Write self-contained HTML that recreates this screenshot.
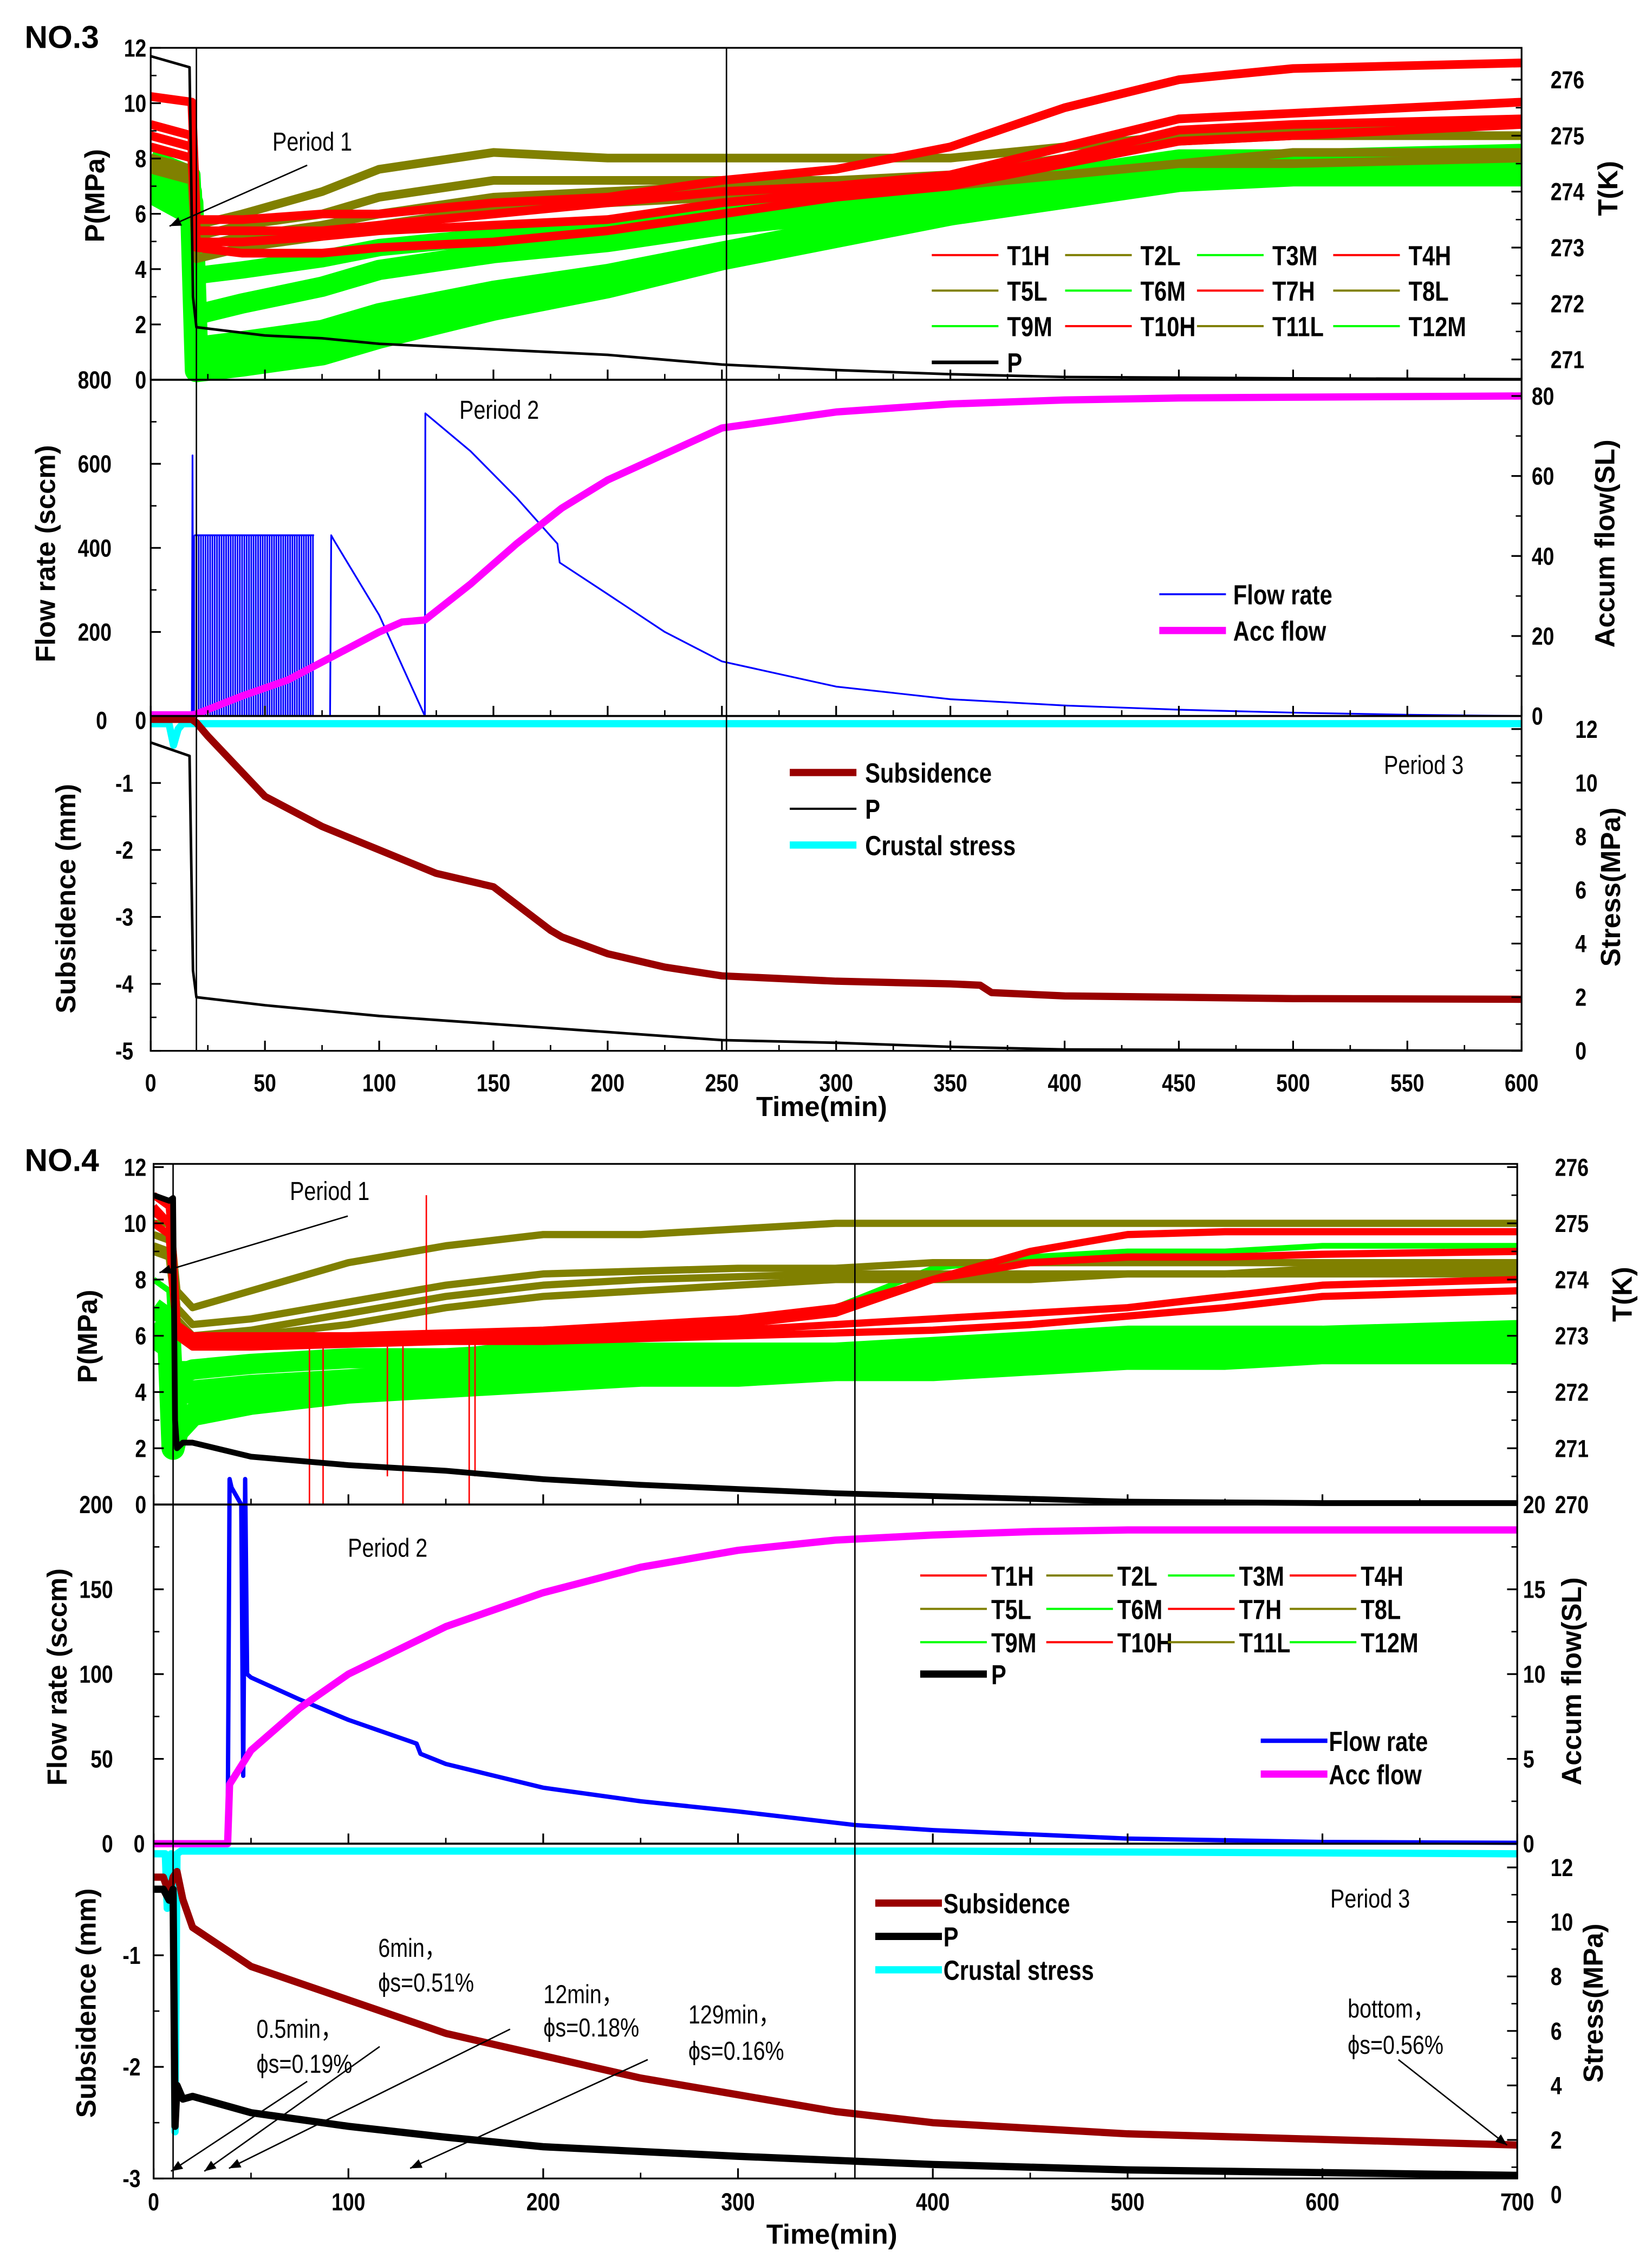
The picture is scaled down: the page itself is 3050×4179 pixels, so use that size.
<!DOCTYPE html>
<html><head><meta charset="utf-8"><style>
html,body{margin:0;padding:0;background:#fff}
svg{display:block}
text{font-family:"Liberation Sans Narrow","Liberation Sans",sans-serif}
.tk{font-size:17px;font-weight:bold}
.lg{font-size:19px;font-weight:bold}
.ti{font-size:19px;font-weight:bold;font-family:"Liberation Sans",sans-serif}
.an{font-size:18px}
</style></head><body>
<svg id="fig" width="3050" height="4179" viewBox="0 0 1140 1562" preserveAspectRatio="none" xmlns="http://www.w3.org/2000/svg">
<defs>
<clipPath id="c1"><rect x="104" y="33" width="946" height="692"/></clipPath>
<clipPath id="c2"><rect x="106" y="803" width="941" height="700"/></clipPath>
<marker id="ar" viewBox="0 0 10 10" refX="10" refY="5" markerWidth="8" markerHeight="8" orient="auto"><path d="M0,1 L10,5 L0,9 z" fill="#000"/></marker>
</defs>
<g id="root"></g>
</svg>
<script>
// ===== Chart NO.3 data =====
const c1TTimes=[0,18,20,40,75,100,150,200,250,300,350,400,450,500,600];
const c1R1=[275.7,275.6,273.5,273.5,273.6,273.6,273.8,273.9,274.2,274.4,274.8,275.5,276.0,276.2,276.3];
const c1R2=[275.2,275.0,273.3,273.3,273.3,273.4,273.6,273.8,274.0,274.1,274.3,274.8,275.3,275.4,275.6];
const c1R3=[275.0,274.8,273.1,273.1,273.2,273.3,273.4,273.5,273.8,274.0,274.2,274.6,275.1,275.2,275.3];
const c1R4=[274.8,274.6,273.0,272.9,272.9,273.0,273.1,273.3,273.6,273.9,274.1,274.5,274.9,275.0,275.2];
const c1O1=[274.8,274.6,273.4,273.6,274.0,274.4,274.7,274.6,274.6,274.6,274.6,274.8,275.0,275.1,275.2];
const c1O2=[274.6,274.4,273.2,273.4,273.6,273.9,274.2,274.2,274.2,274.2,274.3,274.6,274.9,275.0,275.0];
const c1O3=[274.5,274.3,273.0,273.2,273.4,273.6,273.9,274.0,274.1,274.1,274.2,274.3,274.5,274.7,274.7];
const c1O4=[274.4,274.2,272.8,273.0,273.2,273.4,273.7,273.8,273.9,274.0,274.1,274.3,274.5,274.5,274.6];
const c1G1=[274.6,274.3,272.5,272.6,272.8,273.0,273.2,273.4,273.6,273.8,274.0,274.3,274.6,274.6,274.7];
const c1G2=[274.3,274.0,271.8,272.0,272.3,272.6,272.9,273.1,273.4,273.6,273.8,274.1,274.4,274.5,274.5];
const c1G3=[274.1,273.8,271.2,271.3,271.5,271.8,272.2,272.5,272.9,273.3,273.6,274.0,274.3,274.4,274.4];
const c1G4=[274.0,273.6,270.8,270.9,271.1,271.4,271.9,272.3,272.8,273.2,273.6,273.9,274.2,274.3,274.3];
const c1PTimes=[0,17,18.5,20,50,75,100,150,200,250,300,350,400,500,600];
const c1P=[11.7,11.3,3,1.9,1.6,1.5,1.3,1.1,0.9,0.55,0.35,0.2,0.1,0.05,0.02];
const c1PulseT=[19,20,21,22,23,24,25,26,27,28,29,30,31,32,33,34,35,36,37,38,39,40,41,42,43,44,45,46,47,48,49,50,51,52,53,54,55,56,57,58,59,60,61,62,63,64,65,66,67,68,69,70,71];
const c1PulseV=430;
const c1FlowT=[18,18.3,18.6,72,78.5,79,80,100,110,120,120.2,140,160,178,179,200,225,250,300,350,400,450,500,550,600];
const c1Flow=[0,620,0,0,0,430,420,240,120,0,720,630,520,410,365,290,200,130,70,40,25,15,8,3,0];
const c1AccT=[0,18,20,40,60,80,100,110,120,140,160,180,200,250,300,350,400,450,500,600];
const c1Acc=[0.3,0.3,0.5,5,9,15,21,23.5,24,33,43,52,59,72,76,78,79,79.5,79.7,80];
const c1StrT=[0,8,10,12,14,20,100,300,600];
const c1Str=[12.2,12.2,11.4,12.0,12.2,12.2,12.2,12.2,12.2];
const c1SubT=[0,18,20,25,50,75,100,125,150,175,180,200,225,250,300,350,363,368,400,500,600];
const c1Sub=[-0.05,-0.05,-0.1,-0.3,-1.2,-1.65,-2.0,-2.35,-2.55,-3.2,-3.3,-3.55,-3.75,-3.88,-3.96,-4.0,-4.02,-4.13,-4.18,-4.22,-4.23];
const c1BPT=[0,17,18.5,20,50,100,150,200,250,300,350,400,600];
const c1BP=[11.5,11.0,3,2.0,1.7,1.3,1.0,0.7,0.4,0.3,0.15,0.05,0];
const c1XTicks=[0,50,100,150,200,250,300,350,400,450,500,550,600];
const c1PTicks=[2,4,6,8,10,12];
const c1TTicks=[271,272,273,274,275,276];
const c1FTicks=[0,200,400,600,800];
const c1ATicks=[0,20,40,60,80];
const c1STicks=[0,-1,-2,-3,-4,-5];
const c1StTicks=[0,2,4,6,8,10,12];
// ===== Chart NO.4 data =====
const c2TTimes=[0,8,10,12,20,50,100,150,200,250,300,350,400,450,500,550,600,700];
const c2O1=[275,275,274.5,273.8,273.5,273.8,274.3,274.6,274.8,274.8,274.9,275.0,275.0,275.0,275.0,275.0,275.0,275.0];
const c2O2=[274.8,274.7,274.3,273.5,273.2,273.3,273.6,273.9,274.1,274.15,274.2,274.2,274.3,274.3,274.3,274.3,274.3,274.3];
const c2O3=[274.6,274.5,274.0,273.3,273.0,273.1,273.4,273.7,273.9,274.0,274.05,274.1,274.1,274.1,274.1,274.1,274.2,274.2];
const c2O4=[274.5,274.4,273.8,273.2,272.9,273.0,273.2,273.5,273.7,273.8,273.9,274.0,274.0,274.0,274.1,274.1,274.1,274.1];
const c2R1=[275.5,275.3,274.5,273.2,273.0,273.0,273.0,273.0,273.05,273.1,273.2,273.4,274.0,274.5,274.8,274.85,274.85,274.85];
const c2R2=[275.3,275,274,273.1,272.9,272.9,272.9,272.95,273,273.05,273.1,273.2,273.3,273.4,273.5,273.7,273.9,274.0];
const c2R3=[275.2,275,274,273.2,273.0,273.0,273.0,273.05,273.1,273.2,273.3,273.5,274.0,274.3,274.4,274.4,274.45,274.5];
const c2R4=[275,274.8,273.8,273.0,272.8,272.8,272.85,272.9,272.9,272.95,273.0,273.05,273.1,273.2,273.35,273.5,273.7,273.8];
const c2G1=[274,273.8,272.5,272.5,272.5,272.5,272.5,272.7,272.9,273.0,273.2,273.5,274.2,274.4,274.5,274.5,274.6,274.6];
const c2G2=[273.5,273.3,272,272.3,272.4,272.5,272.6,272.6,272.7,272.7,272.7,272.7,272.8,272.9,273.0,273.0,273.0,273.1];
const c2G3=[273.2,273,271.5,272,272.0,272.1,272.2,272.3,272.4,272.4,272.5,272.5,272.6,272.6,272.7,272.7,272.8,272.8];
const c2G4=[273,272.8,271,271.3,271.6,271.8,272.0,272.1,272.2,272.3,272.3,272.4,272.4,272.5,272.6,272.6,272.7,272.7];
const c2SpikeT=[80,87,120,128,140,162,165];
const c2SpikeV=[270,270,270.5,270,275.5,270,270.5];
const c2PTimes=[0,8,10,11,12,15,20,50,100,150,200,250,300,350,400,500,600,700];
const c2P=[11,10.8,10.9,3,2.0,2.2,2.2,1.7,1.4,1.2,0.9,0.7,0.55,0.4,0.3,0.1,0.05,0.05];
const c2FlowT=[0,38,39,40,45,46,47,48,50,75,100,135,137,150,200,250,300,360,400,500,600,700];
const c2Flow=[0,0,215,210,200,40,215,100,98,85,73,59,53,47,33,25,19,11,8,3,1,0.5];
const c2AccT=[0,38,39,50,75,100,150,200,250,300,350,400,450,500,600,700];
const c2Acc=[0,0,3.5,5.5,8,10,12.8,14.8,16.3,17.3,17.9,18.2,18.4,18.5,18.5,18.5];
const c2StrT=[0,6,7,8,9,10,11,12,14,100,400,700];
const c2Str=[12.5,12.5,10.5,12.3,12.5,12,2.3,12.5,12.6,12.6,12.6,12.5];
const c2SubT=[0,5,8,10,12,15,20,50,100,150,200,250,300,350,400,450,500,600,700];
const c2Sub=[-0.3,-0.3,-0.45,-0.3,-0.25,-0.5,-0.75,-1.1,-1.4,-1.7,-1.9,-2.1,-2.25,-2.4,-2.5,-2.55,-2.6,-2.65,-2.7];
const c2BPT=[0,5,8,10,11,12,15,20,50,100,150,200,300,400,500,700];
const c2BP=[11.2,11.2,10.8,11.2,2.5,4,3.5,3.6,3.0,2.5,2.1,1.75,1.4,1.1,0.9,0.7];
const c2XTicks=[0,100,200,300,400,500,600,700];
const c2PTicks=[0,2,4,6,8,10,12];
const c2TTicks=[270,271,272,273,274,275,276];
const c2FTicks=[0,50,100,150,200];
const c2ATicks=[0,5,10,15,20];
const c2STicks=[0,-1,-2,-3];
const c2StTicks=[0,2,4,6,8,10,12];

const NS='http://www.w3.org/2000/svg';
const root=document.getElementById('root');
function mk(tag,attrs,parent){const e=document.createElementNS(NS,tag);for(const k in attrs)e.setAttribute(k,attrs[k]);(parent||root).appendChild(e);return e;}
function txt(x,y,s,cls,anchor,parent){const e=mk('text',{x:x,y:y,class:cls,'text-anchor':anchor||'start'},parent);e.textContent=s;return e;}
function line(ts,vs,xf,yf,color,w,clip,name){
  let d='';for(let i=0;i<ts.length;i++){d+=(i?'L':'M')+xf(ts[i]).toFixed(2)+','+yf(vs[i]).toFixed(2);}
  const p=mk('path',{d:d,fill:'none',stroke:color,'stroke-width':w,'stroke-linejoin':'round','clip-path':'url(#'+clip+')'});
  
  
  return p;
}
const RED='#ff0000',OLV='#808000',GRN='#00ff00';

// ---------- Chart 1 ----------
const x1=t=>104+t*946/600;
const yP1=v=>262-v*19.08;
const yT1=v=>248-(v-271)*38.6;
const yF1=v=>494-v*232/800;
const yA1=v=>494-v*2.76;
const yS1=v=>494-v*46.2;
const ySt1=v=>725-v*18.5;

[[c1G4,16],[c1G3,16],[c1G2,14],[c1G1,12]].forEach((s,i)=>line(c1TTimes,s[0],x1,yT1,GRN,s[1],'c1','c1-green-temp-'+(i+1)));
[c1O4,c1O3,c1O2,c1O1].forEach((s,i)=>line(c1TTimes,s,x1,yT1,OLV,6,'c1','c1-olive-temp-'+(i+1)));
[c1R4,c1R3,c1R2,c1R1].forEach((s,i)=>line(c1TTimes,s,x1,yT1,RED,6,'c1','c1-red-temp-'+(i+1)));
line(c1PTimes,c1P,x1,yP1,'#000',1.8,'c1','c1-pressure-line');
c1PulseT.forEach(t=>{const l=mk('line',{x1:x1(t),x2:x1(t),y1:yF1(0),y2:yF1(c1PulseV),stroke:'#0000ff','stroke-width':1.1});

});
{const l=mk('line',{x1:x1(19),x2:x1(71.5),y1:yF1(c1PulseV),y2:yF1(c1PulseV),stroke:'#0000ff','stroke-width':1.2});

}
line(c1FlowT,c1Flow,x1,yF1,'#0000ff',1.2,'c1','c1-flow-rate-line');
line(c1AccT,c1Acc,x1,yA1,'#ff00ff',5,'c1','c1-acc-flow-line');
line(c1StrT,c1Str,x1,ySt1,'#00ffff',5,'c1','c1-crustal-stress-line');
line(c1SubT,c1Sub,x1,yS1,'#990000',5,'c1','c1-subsidence-line');
line(c1BPT,c1BP,x1,ySt1,'#000',1.8,'c1','c1-bottom-pressure-line');

// ---------- Chart 2 ----------
const x2=t=>106+t*941/700;
const yP2=v=>1038-v*19.4;
const yT2=v=>1038-(v-270)*38.8;
const yF2=v=>1272-v*1.17;
const yA2=v=>1272-v*11.7;
const yS2b=v=>1272-v*77;
const ySt2=v=>1514-v*18.8;

[[c2G4,16],[c2G3,16],[c2G2,14],[c2G1,4]].forEach((s,i)=>line(c2TTimes,s[0],x2,yT2,GRN,s[1],'c2','c2-green-temp-'+(i+1)));
[c2O4,c2O3,c2O2,c2O1].forEach((s,i)=>line(c2TTimes,s,x2,yT2,OLV,5,'c2','c2-olive-temp-'+(i+1)));
[c2R4,c2R3,c2R2,c2R1].forEach((s,i)=>line(c2TTimes,s,x2,yT2,RED,5,'c2','c2-red-temp-'+(i+1)));
c2SpikeT.forEach((t,i)=>{const l=mk('line',{x1:x2(t),x2:x2(t),y1:yT2(272.9),y2:yT2(c2SpikeV[i]),stroke:RED,'stroke-width':1,'clip-path':'url(#c2)'});

});
line(c2PTimes,c2P,x2,yP2,'#000',4,'c2','c2-pressure-line');
line(c2FlowT,c2Flow,x2,yF2,'#0000ff',3,'c2','c2-flow-rate-line');
line(c2AccT,c2Acc,x2,yA2,'#ff00ff',5,'c2','c2-acc-flow-line');
line(c2StrT,c2Str,x2,ySt2,'#00ffff',5,'c2','c2-crustal-stress-line');
line(c2SubT,c2Sub,x2,yS2b,'#990000',5,'c2','c2-subsidence-line');
line(c2BPT,c2BP,x2,ySt2,'#000',5,'c2','c2-bottom-pressure-line');

// ---------- frames, axes ----------
function frame(px0,px1,ys,name){
  const g=mk('g',{});
  mk('rect',{x:px0,y:ys[0],width:px1-px0,height:ys[3]-ys[0],fill:'none',stroke:'#000','stroke-width':1.2},g);
  [ys[1],ys[2]].forEach(y=>mk('line',{x1:px0,x2:px1,y1:y,y2:y,stroke:'#000','stroke-width':1.4},g));
  return g;
}
frame(104,1050,[33,262,494,725],'chart-no3-frame');
frame(106,1047,[803,1038,1272,1503],'chart-no4-frame');
function vline(x,y0,y1,name){const l=mk('line',{x1:x,x2:x,y1:y0,y2:y1,stroke:'#000','stroke-width':1});}
vline(x1(20),33,725,'c1-period-line-1');vline(x1(252),33,725,'c1-period-line-2');
vline(x2(10),803,1503,'c2-period-line-1');vline(x2(360),803,1503,'c2-period-line-2');

function yAxis(ticks,yf,x,dir,labelX,anchor,name,ymin,ymax){
  const g=mk('g',{});
  ticks.forEach((v,i)=>{const y=yf(v);
    mk('line',{x1:x,x2:x+dir*7,y1:y,y2:y,stroke:'#000','stroke-width':1.2},g);
    if(i<ticks.length-1){const ym=(y+yf(ticks[i+1]))/2;if(ym>ymin&&ym<ymax)mk('line',{x1:x,x2:x+dir*4,y1:ym,y2:ym,stroke:'#000','stroke-width':1},g);}
    txt(labelX,y+6,String(v),'tk',anchor,g);});
}
function xAxis(ticks,xf,ys,labY,name){
  const g=mk('g',{});
  ticks.forEach((v,i)=>{const x=xf(v);
    ys.forEach(y=>{mk('line',{x1:x,x2:x,y1:y,y2:y-7,stroke:'#000','stroke-width':1.2},g);
      if(i<ticks.length-1){const xm=(x+xf(ticks[i+1]))/2;mk('line',{x1:xm,x2:xm,y1:y,y2:y-4,stroke:'#000','stroke-width':1},g);}});
    txt(x,labY,String(v),'tk','middle',g);});
}
yAxis(c1PTicks,yP1,104,1,101,'end','c1-p-axis',34,262);
txt(101,268,'0','tk','end');
yAxis(c1TTicks,yT1,1050,-1,1070,'start','c1-t-axis',34,262);
yAxis(c1FTicks.slice(1),yF1,104,1,77,'end','c1-flow-axis',263,494);
txt(74,503,'0','tk','end');txt(101,503,'0','tk','end');
yAxis(c1ATicks,yA1,1050,-1,1057,'start','c1-acc-axis',263,494);
yAxis(c1STicks.slice(1),yS1,104,1,92,'end','c1-subs-axis',495,725);
yAxis(c1StTicks,ySt1,1050,-1,1087,'start','c1-stress-axis',495,725);
xAxis(c1XTicks,x1,[262,494,725],753,'c1-x-axis');
yAxis(c2PTicks,yP2,106,1,101,'end','c2-p-axis',804,1038);
yAxis(c2TTicks,yT2,1047,-1,1073,'start','c2-t-axis',804,1038);
yAxis(c2FTicks.slice(1),yF2,106,1,78,'end','c2-flow-axis',1039,1272);
txt(78,1278,'0','tk','end');txt(100,1278,'0','tk','end');
yAxis(c2ATicks,yA2,1047,-1,1051,'start','c2-acc-axis',1039,1272);
yAxis(c2STicks.slice(1),yS2b,106,1,97,'end','c2-subs-axis',1273,1503);
yAxis(c2StTicks,ySt2,1047,-1,1070,'start','c2-stress-axis',1273,1503);
xAxis(c2XTicks,x2,[1038,1272,1503],1525,'c2-x-axis');

function vtitle(x,y,s,name){const t=mk('text',{x:x,y:y,class:'ti','text-anchor':'middle',transform:'rotate(-90 '+x+' '+y+')'});t.textContent=s;}
vtitle(72,135,'P(MPa)','c1-p-title');vtitle(1116,130,'T(K)','c1-t-title');
vtitle(38,382,'Flow rate (sccm)','c1-flow-title');vtitle(1114,375,'Accum flow(SL)','c1-acc-title');
vtitle(52,620,'Subsidence (mm)','c1-subs-title');vtitle(1118,612,'Stress(MPa)','c1-stress-title');
vtitle(67,922,'P(MPa)','c2-p-title');vtitle(1126,893,'T(K)','c2-t-title');
vtitle(46,1157,'Flow rate (sccm)','c2-flow-title');vtitle(1091,1160,'Accum flow(SL)','c2-acc-title');
vtitle(66,1382,'Subsidence (mm)','c2-subs-title');vtitle(1106,1382,'Stress(MPa)','c2-stress-title');
{const t=txt(567,770,'Time(min)','ti','middle');}
{const t=txt(574,1548,'Time(min)','ti','middle');}
{const t=mk('text',{x:17,y:33,'font-family':'Liberation Serif,serif','font-weight':'bold','font-size':'22'});t.textContent='NO.3';}
{const t=mk('text',{x:17,y:808,'font-family':'Liberation Serif,serif','font-weight':'bold','font-size':'22'});t.textContent='NO.4';}

function ann(x,y,s,name){const t=txt(x,y,s,'an','start');}
function arrow(a,b,c,d,name){const l=mk('line',{x1:a,y1:b,x2:c,y2:d,stroke:'#000','stroke-width':1,'marker-end':'url(#ar)'});}
ann(188,104,'Period 1','c1-period1-label');arrow(212,114,117,156,'c1-period1-arrow');
ann(317,289,'Period 2','c1-period2-label');ann(955,534,'Period 3','c1-period3-label');
ann(200,828,'Period 1','c2-period1-label');arrow(240,839,110,878,'c2-period1-arrow');
ann(240,1074,'Period 2','c2-period2-label');ann(918,1316,'Period 3','c2-period3-label');
ann(261,1350,'6min，','c2-ann-6min');ann(261,1374,'ϕs=0.51%','c2-ann-6min-phi');
ann(375,1382,'12min，','c2-ann-12min');ann(375,1405,'ϕs=0.18%','c2-ann-12min-phi');
ann(475,1396,'129min，','c2-ann-129min');ann(475,1421,'ϕs=0.16%','c2-ann-129min-phi');
ann(177,1406,'0.5min，','c2-ann-05min');ann(177,1430,'ϕs=0.19%','c2-ann-05min-phi');
ann(930,1392,'bottom，','c2-ann-bottom');ann(930,1417,'ϕs=0.56%','c2-ann-bottom-phi');
arrow(212,1436,118,1498,'c2-arrow-05min');arrow(262,1412,141,1498,'c2-arrow-6min');
arrow(352,1400,158,1496,'c2-arrow-12min');arrow(447,1421,283,1496,'c2-arrow-129min');arrow(965,1421,1040,1480,'c2-arrow-bottom');

function legRows(rows,cols,y0,dy,txtOff,prefix){
  rows.forEach((r,ri)=>r.forEach((e,ci)=>{const x=cols[ci],y=y0+ri*dy;
    const l=mk('line',{x1:x,x2:x+46,y1:y,y2:y,stroke:e[1],'stroke-width':e[2]});
    
    
    const t=txt(x+txtOff,y+7,e[0],'lg','start');
    
    }));
}
const tRows=[[['T1H',RED,1.5],['T2L',OLV,1.5],['T3M',GRN,1.5],['T4H',RED,1.5]],[['T5L',OLV,1.5],['T6M',GRN,1.5],['T7H',RED,1.5],['T8L',OLV,1.5]],[['T9M',GRN,1.5],['T10H',RED,1.5],['T11L',OLV,1.5],['T12M',GRN,1.5]]];
legRows(tRows,[643,735,826,920],176,24.5,52,'c1-legend');
legRows([[['P','#000',2.5]]],[643],250,0,52,'c1-legend');
legRows([[['Flow rate','#0000ff',1.3]],[['Acc flow','#ff00ff',5]]],[800],410,25,51,'c1-legend');
legRows([[['Subsidence','#990000',5]],[['P','#000',1.5]],[['Crustal stress','#00ffff',5]]],[545],533,25,52,'c1-legend');
legRows(tRows,[635,722,806,890],1087,23,49,'c2-legend');
legRows([[['P','#000',5]]],[635],1155,0,49,'c2-legend');
legRows([[['Flow rate','#0000ff',3]],[['Acc flow','#ff00ff',5]]],[870],1201,23,47,'c2-legend');
legRows([[['Subsidence','#990000',5]],[['P','#000',5]],[['Crustal stress','#00ffff',5]]],[604],1313,23,47,'c2-legend');

// condense bold text to mimic narrow font
document.querySelectorAll('text.lg, text.tk, text.an').forEach(t=>{
  const w=t.getComputedTextLength();
  if(w>0){t.setAttribute('textLength',(w*0.82).toFixed(1));t.setAttribute('lengthAdjust','spacingAndGlyphs');}
});
</script>
</body></html>
